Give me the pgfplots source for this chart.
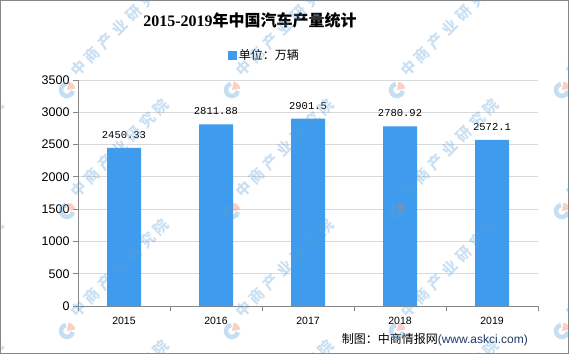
\documentclass[border=0pt]{standalone}
\usepackage{pgfplots}
\pgfplotsset{compat=1.18}
\usepackage{fontspec}
\setmainfont{Liberation Serif}
\newfontfamily\cjk{Noto Sans CJK SC}
\newfontfamily\wmfont[LetterSpace=30]{Noto Sans CJK SC}
\newfontfamily\arial{Liberation Sans}
\newfontfamily\mono{Liberation Mono}
\definecolor{barblue}{RGB}{62,155,238}
\definecolor{axisgray}{RGB}{134,134,134}
\definecolor{gridgray}{RGB}{217,217,217}
\definecolor{urlblue}{RGB}{31,56,100}
\definecolor{wmblue}{RGB}{90,160,215}
\definecolor{wmorange}{RGB}{240,120,80}
\begin{document}
\begin{tikzpicture}
\useasboundingbox (0,0) rectangle (569pt,354pt);
\draw[axisgray, line width=1pt] (0.5pt,0.5pt) rectangle (568.5pt,353.5pt);
\begin{axis}[
  at={(78pt,48pt)}, anchor=south west,
  scale only axis, width=460pt, height=226pt,
  ybar, bar width=34pt,
  xmin=-0.5, xmax=4.5, ymin=0, ymax=3500,
  axis x line*=bottom, axis y line*=left,
  axis line style={axisgray,-},
  tick align=outside, tick pos=left,
  tick style={axisgray, line width=0.8pt},
  major tick length=5pt, minor tick length=5pt,
  xtick={0,1,2,3,4}, xticklabels={2015,2016,2017,2018,2019},
  major x tick style={draw=none},
  minor xtick={-0.5,0.5,1.5,2.5,3.5,4.5},
  ytick={0,500,...,3500},
  ymajorgrids, major grid style={gridgray, line width=0.8pt},
  /pgf/number format/assume math mode=true,
  /pgf/number format/1000 sep={},
  yticklabel style={font=\arial\fontsize{12.5}{14}\selectfont, text=black},
  xticklabel style={font=\arial\fontsize{10.5}{12}\selectfont, text=black, yshift=-3pt},
  nodes near coords,
  point meta=explicit symbolic,
  every node near coord/.append style={font=\mono\fontsize{10.5}{12}\selectfont, text=black, yshift=6pt},
  legend style={at={(0.405,1.11)}, anchor=center, draw=none, fill=none,
    font=\cjk\fontsize{12}{14}\selectfont, inner sep=0pt},
  legend image code/.code={\fill[barblue] (0pt,-4.5pt) rectangle (9pt,4.5pt);},
  clip=false,
]
\addplot[fill=barblue, draw=none] table[meta=label] {
x y label
0 2450.33 2450.33
1 2811.88 2811.88
2 2901.5 2901.5
3 2780.92 2780.92
4 2572.1 2572.1
};
\addlegendentry{单位：万辆}
\end{axis}
\node[anchor=center, font=\bfseries\fontsize{16}{18}\selectfont] at (250pt,334pt)
  {2015-2019{\cjk 年中国汽车产量统计}};
\node[anchor=east, font=\fontsize{12}{14}\selectfont, inner sep=0pt] at (528pt,14pt)
  {{\cjk 制图：中商情报网}{\arial\color{urlblue}(www.askci.com)}};
% watermark
\begin{scope}
\clip (1pt,1pt) rectangle (568pt,353pt);
\foreach \xx in {-98,67,232,397,562} {
  \foreach \yy in {90,211,331,452} {
    \begin{scope}[shift={({\xx*1pt},{(354-\yy)*1pt})}]
      \draw[wmblue, opacity=0.35, line width=4.5pt] (100:6pt) arc (100:350:6pt);
      \fill[wmorange, opacity=0.35] (0,0) -- (10:8.5pt) arc (10:80:8.5pt) -- cycle;
      \node[anchor=west, rotate=45, text=wmblue, text opacity=0.32,
        font=\wmfont\bfseries\fontsize{15}{16}\selectfont, inner sep=0pt]
        at (6pt,16pt) {中商产业研究院};
    \end{scope}
  }
}
\end{scope}
\end{tikzpicture}
\end{document}
